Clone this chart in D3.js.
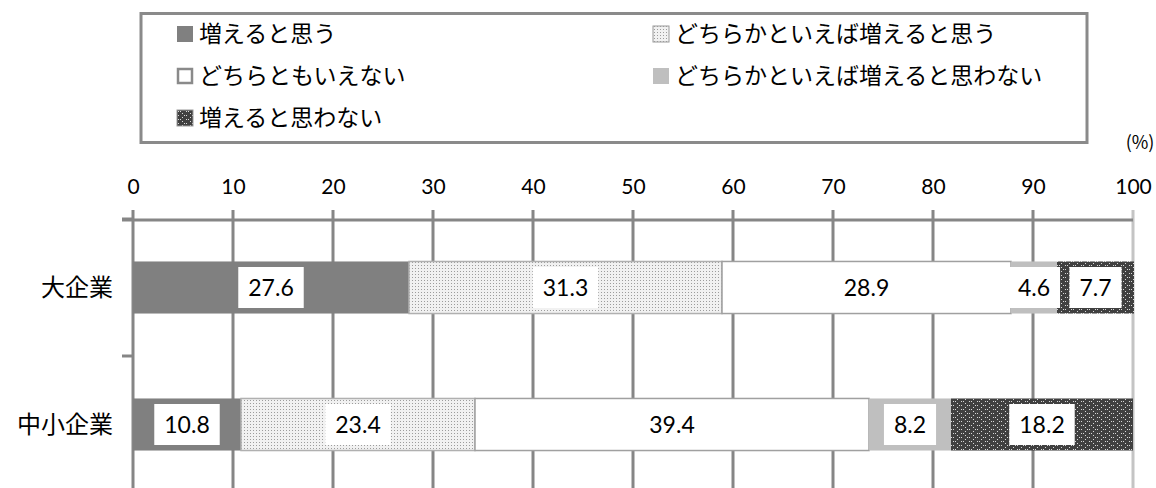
<!DOCTYPE html>
<html>
<head>
<meta charset="utf-8">
<script src="https://cdn.jsdelivr.net/npm/d3@7"></script>
<style>
  body { margin: 0; background: #fff; }
  svg { display: block; }
</style>
</head>
<body>
<svg id="chart" width="1156" height="488"></svg>
<script>
// data
var categories = ["大企業", "中小企業"];
var seriesNames = ["増えると思う", "どちらかといえば増えると思う", "どちらともいえない",
                   "どちらかといえば増えると思わない", "増えると思わない"];
var increase = [27.6, 10.8];
var ratherIncrease = [31.3, 23.4];
var neither = [28.9, 39.4];
var ratherNot = [4.6, 8.2];
var notIncrease = [7.7, 18.2];
var tickValues = [0, 10, 20, 30, 40, 50, 60, 70, 80, 90, 100];

var jpFont = "'Noto Sans CJK JP', 'Noto Sans', sans-serif";
var numFont = "Lato, 'Open Sans', sans-serif";
var gridColor = "#868686";

var svg = d3.select("#chart");

// patterns
var defs = svg.append("defs");

var p2 = defs.append("pattern").attr("id", "dotLight")
             .attr("width", 3).attr("height", 3)
             .attr("patternUnits", "userSpaceOnUse");
p2.append("rect").attr("width", 3).attr("height", 3).attr("fill", "#f1f1f1");
p2.append("rect").attr("x", 1).attr("y", 1).attr("width", 1).attr("height", 1).attr("fill", "#9c9c9c");

var p5 = defs.append("pattern").attr("id", "dotDark")
             .attr("width", 8).attr("height", 8)
             .attr("patternUnits", "userSpaceOnUse");
p5.append("rect").attr("width", 8).attr("height", 8).attr("fill", "#404040");
[[1, 1], [1, 5], [5, 3], [5, 7], [3, 1], [7, 5]].forEach(function(p) {
    p5.append("rect").attr("x", p[0]).attr("y", p[1])
      .attr("width", 1).attr("height", 1).attr("fill", "#d8d8d8");
});

var fills = ["#808080", "url(#dotLight)", "#ffffff", "#bfbfbf", "url(#dotDark)"];
var strokes = ["none", "#b0b0b0", "#a0a0a0", "none", "none"];

// table for stacking
var table = categories.map(function(c, i) {
    return {cat: c, s0: increase[i], s1: ratherIncrease[i], s2: neither[i],
            s3: ratherNot[i], s4: notIncrease[i]};
});
var keys = ["s0", "s1", "s2", "s3", "s4"];
var stacked = d3.stack().keys(keys)(table);

// scales
var x = d3.scaleLinear().domain([0, 100]).range([133, 1133]);
var y = d3.scaleBand().domain(categories).range([219, 493])
          .paddingInner(0.62).paddingOuter(0.31);

// legend box
svg.append("rect")
   .attr("x", 141).attr("y", 13.5).attr("width", 946).attr("height", 129)
   .attr("fill", "#fff").attr("stroke", "#8a8a8a").attr("stroke-width", 3);

var legendPos = [[177, 34], [653, 34], [177, 76], [653, 76], [177, 118]];
var legend = svg.append("g").selectAll("g")
                .data(seriesNames)
                .enter().append("g")
                .attr("transform", function(d, i) {
                    return "translate(" + legendPos[i][0] + "," + legendPos[i][1] + ")";
                });
legend.append("rect")
      .attr("x", function(d, i) { return i == 2 ? 1 : 0; })
      .attr("y", function(d, i) { return i == 2 ? -7 : -8; })
      .attr("width", function(d, i) { return i == 2 ? 14 : 16; })
      .attr("height", function(d, i) { return i == 2 ? 14 : 16; })
      .attr("fill", function(d, i) { return fills[i]; })
      .attr("stroke", function(d, i) { return i == 2 ? "#8a8a8a" : (i == 1 || i == 4 ? "#9a9a9a" : "none"); })
      .attr("stroke-width", function(d, i) { return i == 2 ? 2.5 : 1; });
legend.append("text")
      .attr("x", 22).attr("dy", "0.36em")
      .attr("font-family", jpFont).attr("font-size", 23)
      .attr("fill", "#000")
      .text(function(d) { return d; });

// percent unit
svg.append("text")
   .attr("x", 1140).attr("y", 143).attr("dy", "0.36em")
   .attr("text-anchor", "middle")
   .attr("font-family", jpFont).attr("font-size", 18)
   .text("(%)");

// value axis on top, ticks run down as grid lines
var gridG = svg.append("g");
gridG.selectAll("line")
     .data(tickValues)
     .enter().append("line")
     .attr("x1", function(d) { return x(d); })
     .attr("x2", function(d) { return x(d); })
     .attr("y1", 210).attr("y2", 488)
     .attr("stroke", function(d) { return d == 100 ? "#c4c4c4" : gridColor; })
     .attr("stroke-width", 3);

svg.append("line")
   .attr("x1", 122).attr("x2", x(100))
   .attr("y1", 220).attr("y2", 220)
   .attr("stroke", gridColor).attr("stroke-width", 3);

var xAxis = d3.axisTop(x).tickValues(tickValues).tickSize(0).tickPadding(0);
var gx = svg.append("g").attr("transform", "translate(0,186)").call(xAxis);
gx.select(".domain").remove();
gx.selectAll("text")
  .attr("font-family", numFont).attr("font-size", 21)
  .attr("fill", "#000").attr("dy", "0.36em");

// category axis ticks
var bounds = [y.range()[0]].concat(categories.map(function(c) {
    return y(c) + y.bandwidth() + y.paddingOuter() * y.step();
}));
svg.append("g").selectAll("line")
   .data(bounds)
   .enter().append("line")
   .attr("x1", 122).attr("x2", x(0))
   .attr("y1", function(d) { return d; })
   .attr("y2", function(d) { return d; })
   .attr("stroke", gridColor).attr("stroke-width", 3);

// category labels
svg.append("g").selectAll("text")
   .data(categories)
   .enter().append("text")
   .attr("x", 113)
   .attr("y", function(d) { return y(d) + y.bandwidth() / 2; })
   .attr("dy", "0.36em")
   .attr("text-anchor", "end")
   .attr("font-family", jpFont).attr("font-size", 24)
   .text(function(d) { return d; });

// bars
var layers = svg.append("g").selectAll("g")
                .data(stacked)
                .enter().append("g");

layers.selectAll("rect")
      .data(function(d) { return d; })
      .enter().append("rect")
      .attr("x", function(d) { return x(d[0]); })
      .attr("y", function(d) { return y(d.data.cat); })
      .attr("width", function(d) { return x(d[1]) - x(d[0]); })
      .attr("height", y.bandwidth())
      .attr("fill", function() { return fills[d3.select(this.parentNode).datum().index]; })
      .attr("stroke", function() { return strokes[d3.select(this.parentNode).datum().index]; })
      .attr("stroke-width", 1.5);

// value labels in white boxes
var labelData = [];
stacked.forEach(function(layer) {
    layer.forEach(function(d) {
        labelData.push({cx: x((d[0] + d[1]) / 2),
                        cy: y(d.data.cat) + y.bandwidth() / 2,
                        v: d[1] - d[0]});
    });
});

var labels = svg.append("g").selectAll("g")
                .data(labelData)
                .enter().append("g")
                .attr("transform", function(d) { return "translate(" + d.cx + "," + d.cy + ")"; });

labels.append("text")
      .attr("text-anchor", "middle").attr("dy", "0.36em")
      .attr("font-family", numFont).attr("font-size", 23)
      .attr("fill", "#000")
      .text(function(d) { return d.v.toFixed(1); });

labels.insert("rect", "text")
      .each(function() {
          var bb = this.parentNode.querySelector("text").getBBox();
          d3.select(this)
            .attr("x", bb.x - 10).attr("y", -20.5)
            .attr("width", bb.width + 20).attr("height", 41)
            .attr("fill", "#fff");
      });
</script>
</body>
</html>
